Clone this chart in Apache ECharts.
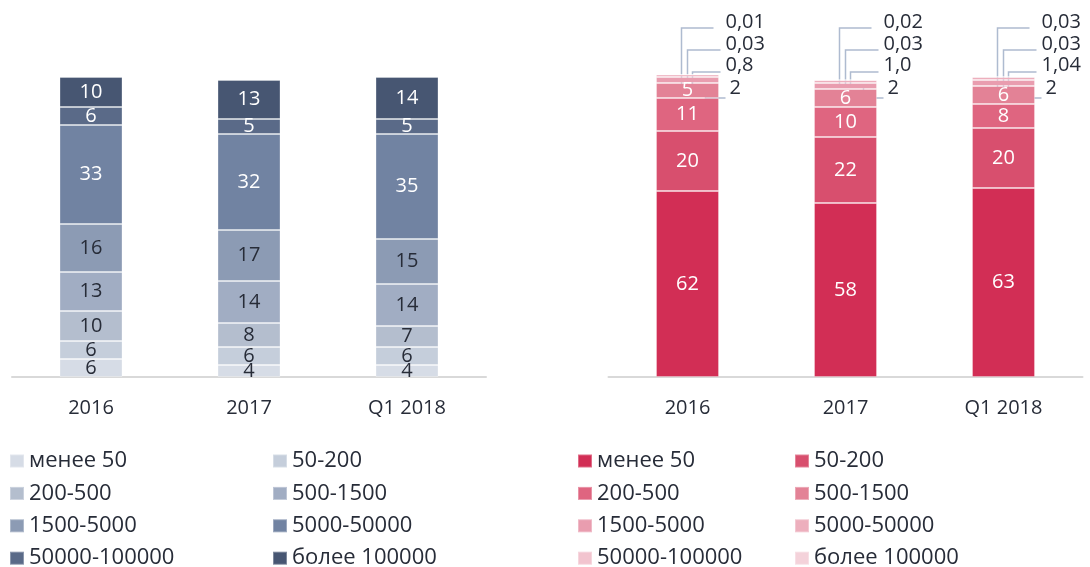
<!DOCTYPE html>
<html>
<head>
<meta charset="utf-8">
<script src="https://cdn.jsdelivr.net/npm/echarts@6/dist/echarts.min.js"></script>
<style>
  html, body { margin: 0; padding: 0; background: #ffffff; }
  #chart { width: 1090px; height: 567px; }
</style>
</head>
<body>
<div id="chart"></div>
<script>
const categories = ["2016", "2017", "Q1 2018"];
const groupNames = [
  "менее 50",
  "50-200",
  "200-500",
  "500-1500",
  "1500-5000",
  "5000-50000",
  "50000-100000",
  "более 100000",
];

// left chart (grey-blue), bottom to top
const leftLess50 = [6, 4, 4];
const left50_200 = [6, 6, 6];
const left200_500 = [10, 8, 7];
const left500_1500 = [13, 14, 14];
const left1500_5000 = [16, 17, 15];
const left5000_50000 = [33, 32, 35];
const left50000_100000 = [6, 5, 5];
const leftMore100000 = [10, 13, 14];

// right chart (red), bottom to top
const rightLess50 = [62, 58, 63];
const right50_200 = [20, 22, 20];
const right200_500 = [11, 10, 8];
const right500_1500 = [5, 6, 6];
const right1500_5000 = [2, 2, 2];
const right5000_50000 = [0.8, 1.0, 1.04];
const right50000_100000 = [0.03, 0.03, 0.03];
const rightMore100000 = [0.01, 0.02, 0.03];

const LEFT_COLORS = [
  "#d6dce6", "#c5cedb", "#b4bece", "#a1adc3",
  "#8c9bb4", "#7183a2", "#5a6a88", "#475672",
];
const RIGHT_COLORS = [
  "#d22e55", "#d84f6e", "#df6580", "#e38296",
  "#e99daf", "#edafbd", "#f2c4cf", "#f4d2da",
];
const TEXT_COLOR = "#272c38";
const FONT = "Open Sans";

const leftData = [
  leftLess50, left50_200, left200_500, left500_1500,
  left1500_5000, left5000_50000, left50000_100000, leftMore100000,
];
const rightData = [
  rightLess50, right50_200, right200_500, right500_1500,
  right1500_5000, right5000_50000, right50000_100000, rightMore100000,
];
// minimum decimals for the outside labels of the right chart
const rightMinDecimals = [0, 0, 0, 0, 0, 1, 2, 2];

function formatComma(value, minDecimals) {
  const s = String(value);
  const dec = s.includes(".") ? s.split(".")[1].length : 0;
  return value.toFixed(Math.max(dec, minDecimals)).replace(".", ",");
}

function buildSeries(data, colors, gridIndex, stack, isRight) {
  return data.map((values, idx) => {
    let labelColor = "#ffffff";
    if (!isRight && idx < 5) labelColor = TEXT_COLOR;
    return {
      name: groupNames[idx],
      type: "bar",
      stack: stack,
      xAxisIndex: gridIndex,
      yAxisIndex: gridIndex,
      barWidth: 63,
      clip: false,
      data: values,
      itemStyle: {
        color: colors[idx],
        borderColor: "rgba(255, 255, 255, 0.3)",
        borderWidth: 1,
      },
      label: {
        show: !(isRight && idx >= 4),
        position: "inside",
        color: labelColor,
        fontFamily: FONT,
        fontSize: 20,
      },
      emphasis: { disabled: true },
    };
  });
}

function legendColumn(left, top, indices, colors) {
  return {
    orient: "vertical",
    left: left,
    top: top,
    height: 140,
    padding: 0,
    itemWidth: 14,
    itemHeight: 13,
    itemGap: 10.4,
    icon: "rect",
    selectedMode: false,
    textStyle: {
      color: TEXT_COLOR,
      fontFamily: FONT,
      fontSize: 22,
      lineHeight: 22,
    },
    data: indices.map((i) => ({
      name: groupNames[i],
      itemStyle: { color: colors[i] },
    })),
  };
}

function xAxisFor(gridIndex) {
  return {
    type: "category",
    gridIndex: gridIndex,
    data: categories,
    axisLine: { lineStyle: { color: "#d9d9d9", width: 2 } },
    axisTick: { show: false },
    axisLabel: {
      color: TEXT_COLOR,
      fontFamily: FONT,
      fontSize: 20,
      margin: 21,
    },
  };
}

function yAxisFor(gridIndex) {
  return {
    type: "value",
    gridIndex: gridIndex,
    min: 0,
    max: 100,
    show: false,
    splitLine: { show: false },
  };
}

function renderChart(elementId) {
  const chartElement = document.getElementById(elementId);
  if (!chartElement) return null;
  const chartInstance = echarts.init(chartElement);
  const option = {
    animation: false,
    textStyle: { fontFamily: FONT },
    grid: [
      { left: 12, top: 77, width: 474, height: 300 },
      { left: 608.5, top: 77, width: 474, height: 300 },
    ],
    xAxis: [xAxisFor(0), xAxisFor(1)],
    yAxis: [yAxisFor(0), yAxisFor(1)],
    legend: [
      legendColumn(9, 450, [0, 2, 4, 6], LEFT_COLORS),
      legendColumn(272, 450, [1, 3, 5, 7], LEFT_COLORS),
      legendColumn(577, 450, [0, 2, 4, 6], RIGHT_COLORS),
      legendColumn(794, 450, [1, 3, 5, 7], RIGHT_COLORS),
    ],
    series: [
      ...buildSeries(leftData, LEFT_COLORS, 0, "left", false),
      ...buildSeries(rightData, RIGHT_COLORS, 1, "right", true),
    ],
  };
  chartInstance.setOption(option);

  // leader lines + outside labels for the thin top segments of the right bars
  const lineX = [18, 5, 0, -6];
  const lineEnd = [38, 33, 33, 26];
  const lineY = [21, -5, -27, -49];
  const textX = [42, 38, 38, 38];
  const textDy = [-10, -7, -6, -6];
  const elements = [];
  categories.forEach((cat, ci) => {
    const top = chartInstance.convertToPixel({ gridIndex: 1 }, [ci, 100]);
    const cx = top[0];
    const ty = top[1];
    for (let k = 0; k < 4; k++) {
      const seriesIdx = 4 + k;
      const y = ty + lineY[k];
      elements.push({
        type: "polyline",
        silent: true,
        shape: {
          points: [
            [cx + lineX[k], ty + 11],
            [cx + lineX[k], y],
            [cx + lineEnd[k], y],
          ],
        },
        style: { stroke: "#aebbd0", lineWidth: 1.5, fill: null },
      });
      elements.push({
        type: "text",
        silent: true,
        x: cx + textX[k],
        y: y + textDy[k],
        style: {
          text: formatComma(rightData[seriesIdx][ci], rightMinDecimals[seriesIdx]),
          fill: TEXT_COLOR,
          font: `20px "${FONT}"`,
          verticalAlign: "middle",
          align: "left",
        },
      });
    }
  });
  chartInstance.setOption({ graphic: elements });
  return chartInstance;
}

renderChart("chart");
</script>
</body>
</html>
